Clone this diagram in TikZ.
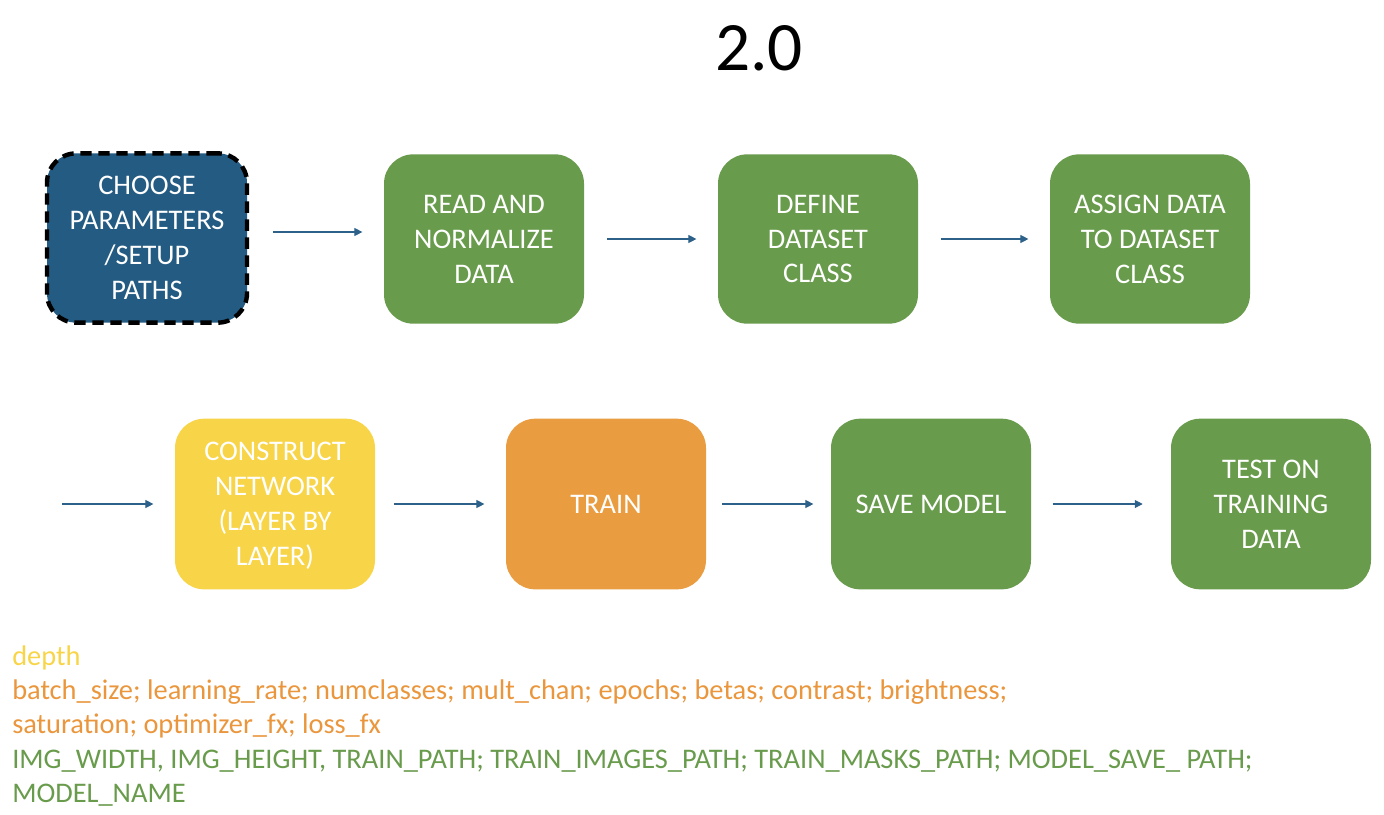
\documentclass[tikz,border=0pt]{standalone}
\usepackage{fontspec}
\setmainfont{Carlito}
\usetikzlibrary{arrows.meta}
\definecolor{stepblue}{HTML}{245B82}
\definecolor{stepgreen}{HTML}{699B4C}
\definecolor{stepyellow}{HTML}{F8D548}
\definecolor{steporange}{HTML}{E99C40}
\definecolor{textorange}{HTML}{EA963D}
\definecolor{arrowblue}{HTML}{2D6189}
\begin{document}
\begin{tikzpicture}[
            x=0.75pt, y=-0.75pt,
            stepbox/.style={
                rounded corners=22pt, minimum width=150pt, minimum height=127pt,
                align=center, text=white, inner sep=0pt,
                font=\fontsize{21.3}{26.2}\selectfont
            },
            flow/.style={
                -{Triangle[length=6pt,width=6pt]}, arrowblue, line width=0.8pt
            },
            paramline/.style={
                anchor=base west, inner sep=0pt,
                font=\fontsize{21.3}{25}\selectfont
            }
        ]
        \useasboundingbox (0,0) rectangle (1384,814);
        \node[font=\fontsize{52}{58}\selectfont] (title) at (759,48) {2.0};

        % first row
        \node[stepbox, fill=stepblue, draw=black, line width=3.3pt,
              dash pattern=on 8.5pt off 5pt] (choose) at (147,238) {CHOOSE\\PARAMETERS\\/SETUP\\PATHS};
        \node[stepbox, fill=stepgreen] (read) at (484,239) {READ AND\\NORMALIZE\\DATA};
        \node[stepbox, fill=stepgreen] (define) at (818,239) {DEFINE\\DATASET\\CLASS};
        \node[stepbox, fill=stepgreen] (assign) at (1150,239) {ASSIGN DATA\\TO DATASET\\CLASS};

        % second row
        \node[stepbox, minimum height=128pt, fill=stepyellow] (construct) at (275,504) {CONSTRUCT\\NETWORK\\(LAYER BY\\LAYER\smash{)}};
        \node[stepbox, minimum height=128pt, fill=steporange] (train) at (606,504) {TRAIN};
        \node[stepbox, minimum height=128pt, fill=stepgreen] (save) at (931,504) {SAVE MODEL};
        \node[stepbox, minimum height=128pt, fill=stepgreen] (test) at (1271,504) {TEST ON\\TRAINING\\DATA};

        \coordinate (rowstart) at (62,504);

        % arrows
        \draw[flow] ([xshift=18pt]choose.east |- 0,232) -- ([xshift=-16pt]read.west |- 0,232);
        \draw[flow] ([xshift=17pt]read.east) -- ([xshift=-16pt]define.west);
        \draw[flow] ([xshift=17pt]define.east) -- ([xshift=-16pt]assign.west);
        \draw[flow] (rowstart) -- ([xshift=-16pt]construct.west);
        \draw[flow] ([xshift=14pt]construct.east) -- ([xshift=-16pt]train.west);
        \draw[flow] ([xshift=12pt]train.east) -- ([xshift=-13pt]save.west);
        \draw[flow] ([xshift=16pt]save.east) -- ([xshift=-21pt]test.west);

        % parameter lists
        \node[paramline, text=stepyellow] (depth) at (12,665) {depth};
        \node[paramline, text=textorange] (trainpar) at (12,699) {batch\_size; learning\_rate; numclasses; mult\_chan; epochs; betas; contrast; brightness;};
        \node[paramline, text=textorange] (trainpartwo) at (12,733) {saturation; optimizer\_fx; loss\_fx};
        \node[paramline, text=stepgreen] (pathpar) at (12,768) {IMG\_WIDTH, IMG\_HEIGHT, TRAIN\_PATH; TRAIN\_IMAGES\_PATH; TRAIN\_MASKS\_PATH; MODEL\_SAVE\_ PATH;};
        \node[paramline, text=stepgreen] (pathpartwo) at (12,802) {MODEL\_NAME};
\end{tikzpicture}
\end{document}
